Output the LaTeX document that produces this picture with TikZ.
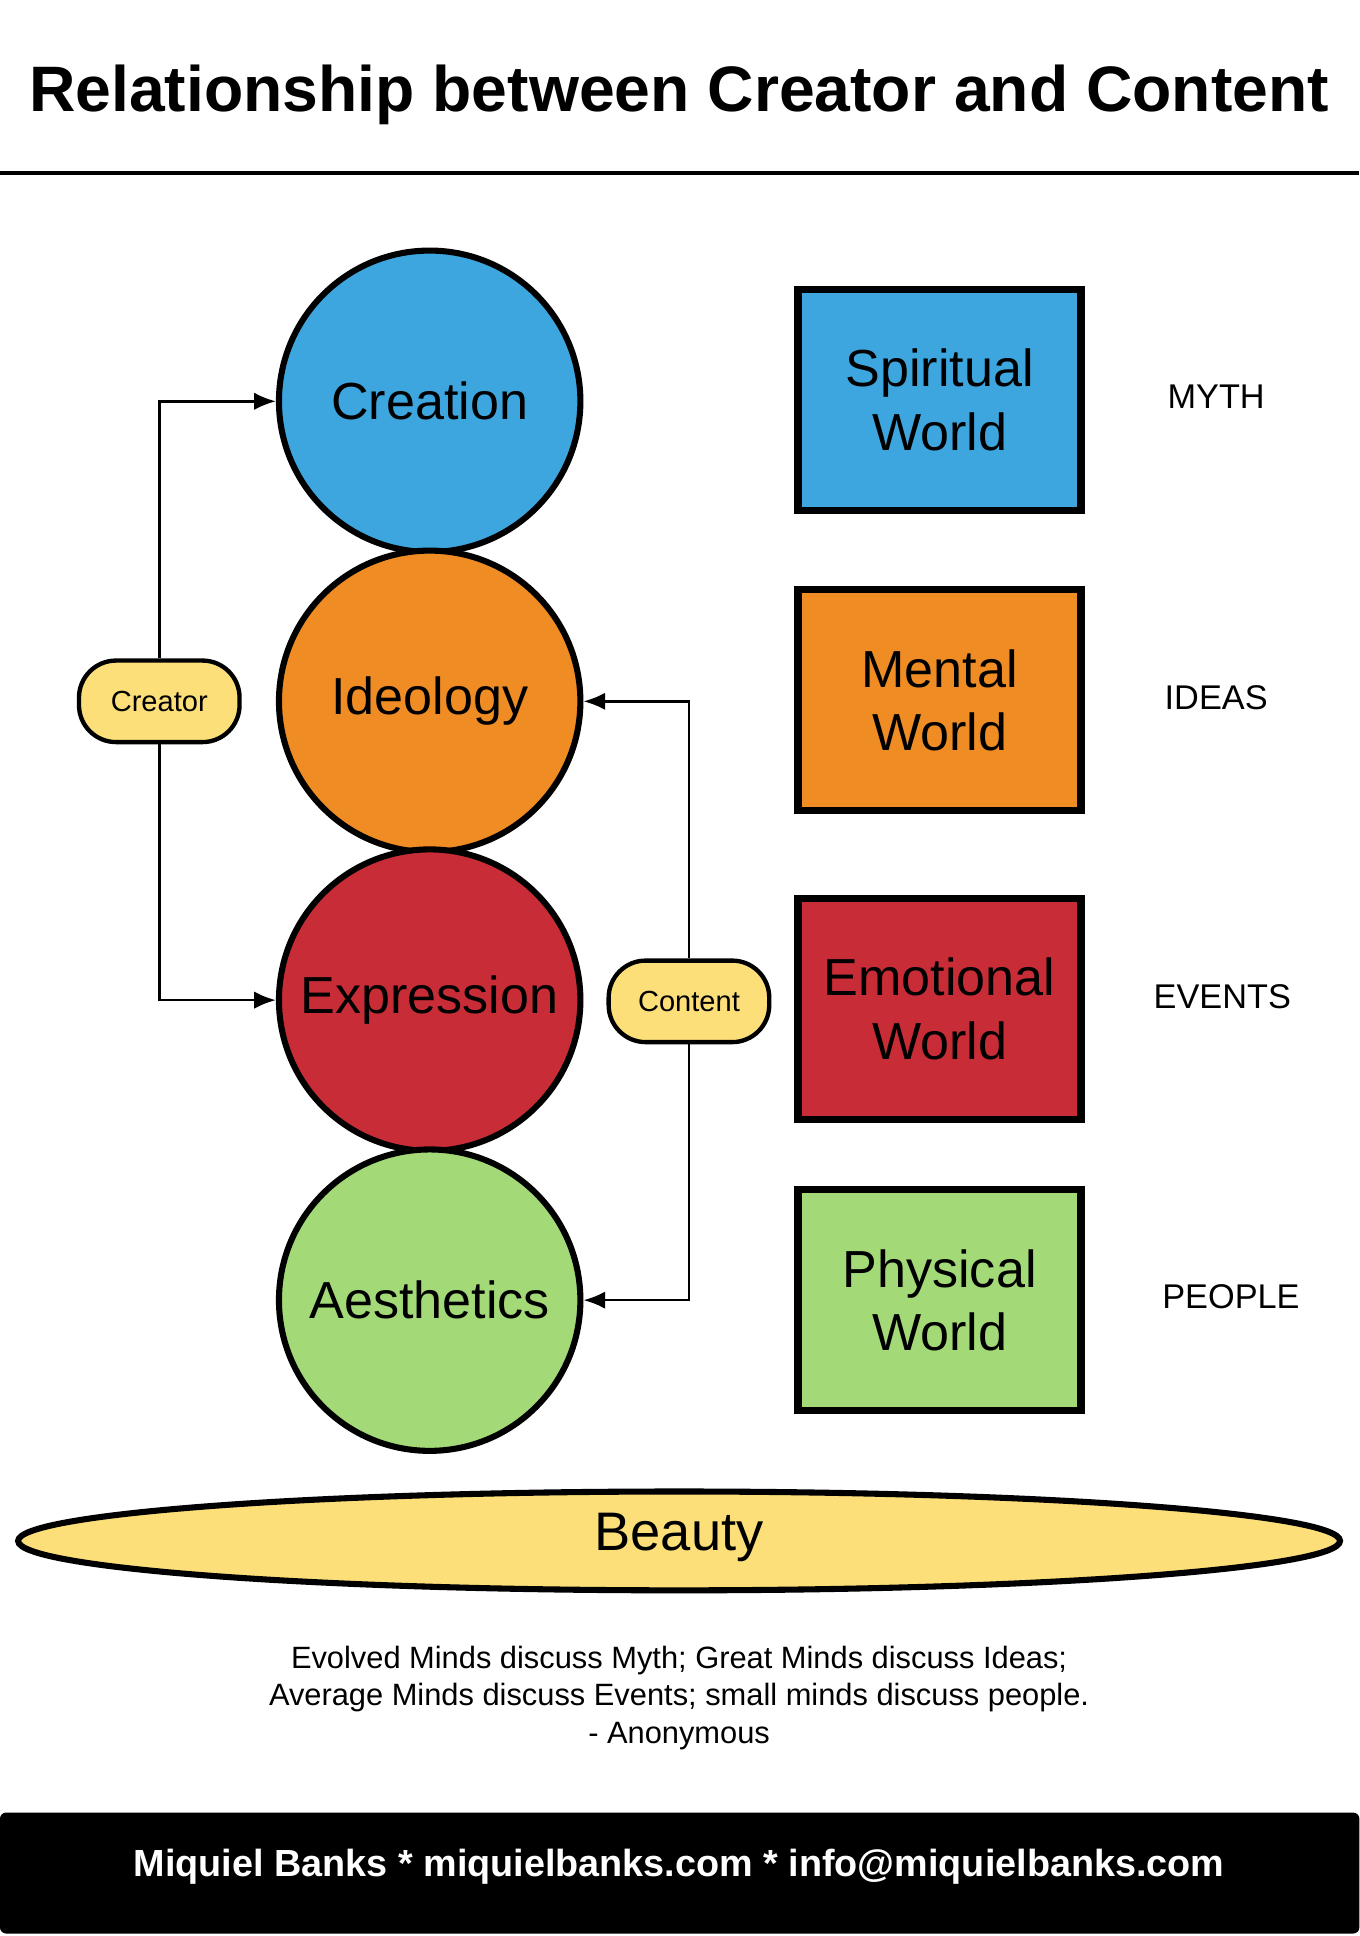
\documentclass[tikz,border=0pt]{standalone}
\usepackage{fontspec}
\setmainfont{Liberation Sans}
\usetikzlibrary{arrows.meta,shapes.geometric}
\definecolor{cblue}{HTML}{3EA6DE}
\definecolor{corange}{HTML}{EF8C24}
\definecolor{cred}{HTML}{C82D37}
\definecolor{cgreen}{HTML}{A3D977}
\definecolor{cyellow}{HTML}{FDDF7A}
\tikzset{
  world/.style={circle, draw=black, line width=1.4pt, minimum size=2.44cm, inner sep=0pt, font=\fontsize{12}{14}\selectfont},
  realm/.style={rectangle, draw=black, line width=1.7pt, minimum width=2.29cm, minimum height=1.79cm, align=center, font=\fontsize{12}{14.6}\selectfont},
  tag/.style={font=\fontsize{7.9}{9}\selectfont},
  pill/.style={rectangle, rounded corners=0.3cm, draw=black, line width=1pt, fill=cyellow, minimum width=1.3cm, minimum height=0.66cm, font=\fontsize{6.7}{8}\selectfont},
  link/.style={line width=0.6pt, -{Latex[length=5pt,width=4pt]}}
}
\begin{document}
\begin{tikzpicture}[x=0.01cm,y=-0.01cm]
  \useasboundingbox (0,0) rectangle (1101,1568);

  \node[font=\fontsize{14.8}{17}\selectfont\bfseries] (title) at (550,77) {Relationship between Creator and Content};
  \draw[line width=0.9pt] (0,140) -- (1101,140);

  % circles
  \node[world, fill=cblue]   (creation)   at (348,325)  {Creation};
  \node[world, fill=corange] (ideology)   at (348,568)  {Ideology};
  \node[world, fill=cred]    (expression) at (348,810)  {Expression};
  \node[world, fill=cgreen]  (aesthetics) at (348,1053) {Aesthetics};

  % squares
  \node[realm, fill=cblue]   (spiritual) at (761,324)  {Spiritual\\World};
  \node[realm, fill=corange] (mental)    at (761,567)  {Mental\\World};
  \node[realm, fill=cred]    (emotional) at (761,817)  {Emotional\\World};
  \node[realm, fill=cgreen]  (physical)  at (761,1053) {Physical\\World};

  \node[tag] (myth)   at (985,321)  {MYTH};
  \node[tag] (ideas)  at (985,565)  {IDEAS};
  \node[tag] (events) at (990,807)  {EVENTS};
  \node[tag] (people) at (997,1050) {PEOPLE};

  % creator and content
  \node[pill] (creator) at (129,568) {Creator};
  \node[pill] (content) at (558,811) {Content};
  \draw[link] (creator.north) |- (creation.west);
  \draw[link] (creator.south) |- (expression.west);
  \draw[link] (content.north) |- (ideology.east);
  \draw[link] (content.south) |- (aesthetics.east);

  % base
  \node[ellipse, draw=black, line width=1.4pt, fill=cyellow, minimum width=10.7cm, minimum height=0.8cm, inner sep=0pt] (beauty) at (550,1248) {};
  \node[font=\fontsize{12.5}{14}\selectfont] (beautytext) at (550,1245) {Beauty};

  \node[align=center, font=\fontsize{7.1}{8.6}\selectfont] (quote) at (550,1375)
    {Evolved Minds discuss Myth; Great Minds discuss Ideas;\\Average Minds discuss Events; small minds discuss people.\\- Anonymous};

  \fill[black, rounded corners=0.05cm] (0,1468) rectangle (1101,1566);
  \node[text=white, font=\fontsize{8.7}{10}\selectfont\bfseries] (footer) at (550,1512) {Miquiel Banks * miquielbanks.com * info@miquielbanks.com};
\end{tikzpicture}
\end{document}
